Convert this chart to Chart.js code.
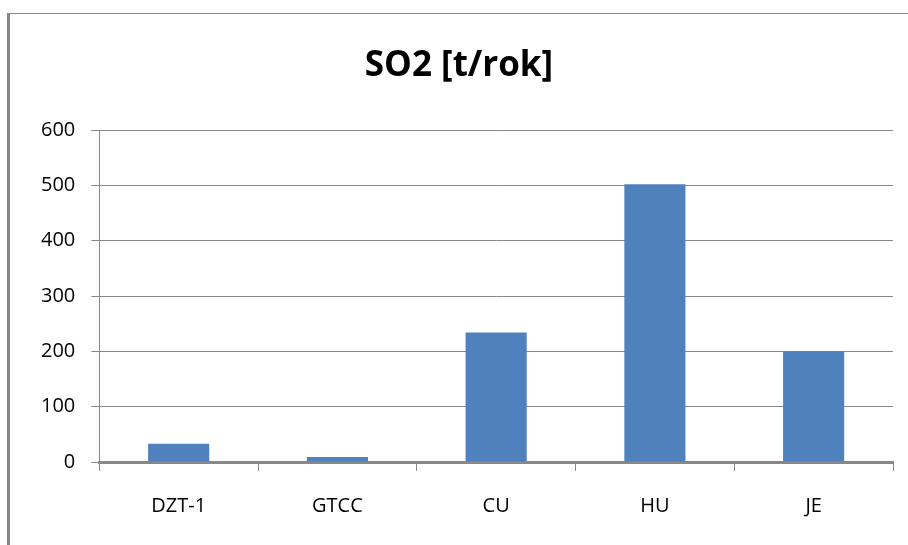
<!DOCTYPE html>
<html>
<head>
<meta charset="utf-8">
<script src="https://cdn.jsdelivr.net/npm/chart.js@4"></script>
<style>
  html, body { margin: 0; padding: 0; background: #fff; }
  #wrap { position: relative; width: 908px; height: 545px; overflow: hidden; }
  #frame { position: absolute; left: 7px; top: 13px; width: 920px; height: 560px;
           border-left: 3px solid #888; border-top: 1px solid #888; }
  canvas { position: absolute; left: 0; top: 0; }
</style>
</head>
<body>
<div id="wrap">
  <div id="frame"></div>
  <canvas id="chart" width="908" height="545"></canvas>
</div>
<script>
// data
const categories = ['DZT-1', 'GTCC', 'CU', 'HU', 'JE'];
const so2Values = [33, 9, 234, 502, 200];
const yTicks = [0, 100, 200, 300, 400, 500, 600];

const chartTitle = 'SO2 [t/rok]';
const gridGray = '#888888';
const fontFamily = "'Open Sans', 'DejaVu Sans', sans-serif";

const ctx = document.getElementById('chart');
const myChart = new Chart(ctx, {
  type: 'bar',
  data: {
    labels: categories,
    datasets: [
      {
        label: 'SO2',
        data: so2Values,
        backgroundColor: '#4f81bd',
        categoryPercentage: 1,
        barPercentage: 0.385,
      },
    ],
  },
  options: {
    responsive: false,
    animation: false,
    layout: {
      padding: { top: 45, left: 25, right: 15, bottom: 4 },
    },
    plugins: {
      legend: { display: false },
      tooltip: { enabled: false },
      title: {
        display: true,
        text: chartTitle,
        color: '#000',
        font: { family: fontFamily, size: 35, weight: 'bold', lineHeight: 1.2 },
        padding: { top: 0, bottom: 43 },
      },
    },
    scales: {
      x: {
        grid: {
          drawOnChartArea: false,
          drawTicks: true,
          tickLength: 9,
          color: gridGray,
        },
        border: { color: gridGray, width: 3 },
        ticks: {
          color: '#000',
          padding: 23,
          font: { family: fontFamily, size: 20 },
        },
      },
      y: {
        min: 0,
        max: 600,
        afterBuildTicks: (axis) => {
          axis.ticks = yTicks.map((v) => ({ value: v }));
        },
        grid: {
          color: gridGray,
          tickLength: 8,
        },
        border: { color: gridGray, width: 1 },
        ticks: {
          color: '#000',
          padding: 16,
          font: { family: fontFamily, size: 20 },
        },
      },
    },
  },
});
</script>
</body>
</html>
